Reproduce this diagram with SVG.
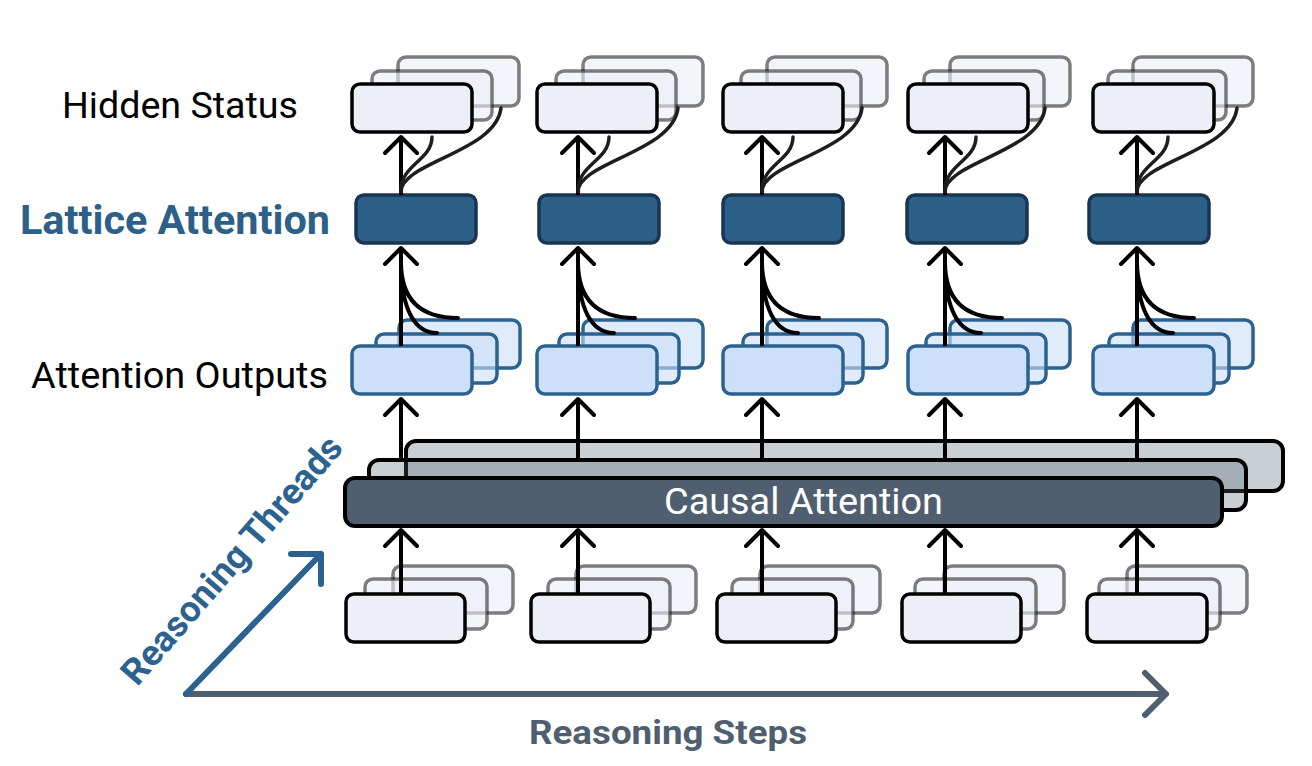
<svg xmlns="http://www.w3.org/2000/svg" width="1312" height="766" viewBox="0 0 1312 766">
<style>
.lbl{font-family:Roboto,"Liberation Sans",sans-serif;font-size:34px;fill:#000}
.bold{font-weight:700}
.hf{fill:#eceff7;stroke:#000;stroke-width:3.5}
.hb{fill:#eceff7;fill-opacity:0.6;stroke:#000;stroke-opacity:0.5;stroke-width:3.5}
.af{fill:#cce0fa;stroke:#2c6290;stroke-width:3.5}
.ab{fill:#cce0fa;fill-opacity:0.6;stroke:#2c6290;stroke-width:3.5}
.la{fill:#2c6089;stroke:#1a3550;stroke-width:3.5}
.cf{fill:#4f5f6f;stroke:#000;stroke-width:4}
.cb{fill:#4f5f6f;fill-opacity:0.3;stroke:#000;stroke-width:4}
.ar{fill:none;stroke:#000;stroke-width:4;marker-end:url(#ah)}
.cv{fill:none;stroke:#000;stroke-width:4;stroke-linecap:round}
.hc{fill:none;stroke:#1e1e1e;stroke-width:3.5;stroke-linecap:round}
</style>
<defs>
<marker id="ah" viewBox="-20 -20 24 40" markerWidth="24" markerHeight="40" refX="0" refY="0" orient="auto" markerUnits="userSpaceOnUse">
<path d="M-16,-16 L0,0 L-16,16" fill="none" stroke="#000" stroke-width="4" stroke-linecap="round" stroke-linejoin="round"/>
</marker>
</defs>
<rect width="1312" height="766" fill="#fff"/>

<!-- labels -->
<text class="lbl" x="62" y="118" style="font-size:36px" textLength="236" lengthAdjust="spacingAndGlyphs">Hidden Status</text>
<text class="lbl bold" x="20" y="234" style="font-size:40px;fill:#2c6089" textLength="310" lengthAdjust="spacingAndGlyphs">Lattice Attention</text>
<text class="lbl" x="31" y="388" style="font-size:36px" textLength="297" lengthAdjust="spacingAndGlyphs">Attention Outputs</text>

<!-- Hidden status stacks -->
<g id="hidden-1"><rect class="hb" x="398" y="57" width="121" height="49" rx="8"/><rect class="hb" x="372" y="71" width="120" height="49" rx="8"/><rect class="hf" x="352" y="84" width="120" height="48" rx="8"/></g>
<g id="hidden-2"><rect class="hb" x="583" y="57" width="120" height="49" rx="8"/><rect class="hb" x="556" y="71" width="120" height="49" rx="8"/><rect class="hf" x="537" y="84" width="120" height="48" rx="8"/></g>
<g id="hidden-3"><rect class="hb" x="767" y="57" width="120" height="49" rx="8"/><rect class="hb" x="741" y="71" width="120" height="49" rx="8"/><rect class="hf" x="723" y="84" width="120" height="48" rx="8"/></g>
<g id="hidden-4"><rect class="hb" x="950" y="57" width="120" height="49" rx="8"/><rect class="hb" x="924" y="71" width="120" height="49" rx="8"/><rect class="hf" x="908" y="84" width="120" height="48" rx="8"/></g>
<g id="hidden-5"><rect class="hb" x="1133" y="57" width="120" height="49" rx="8"/><rect class="hb" x="1108" y="71" width="118" height="49" rx="8"/><rect class="hf" x="1093" y="84" width="121" height="48" rx="8"/></g>

<!-- Lattice attention -->
<g id="lattice-1"><rect class="la" x="356" y="195" width="120" height="48" rx="8"/></g>
<g id="lattice-2"><rect class="la" x="539" y="195" width="120" height="48" rx="8"/></g>
<g id="lattice-3"><rect class="la" x="723" y="195" width="120" height="48" rx="8"/></g>
<g id="lattice-4"><rect class="la" x="907" y="195" width="120" height="48" rx="8"/></g>
<g id="lattice-5"><rect class="la" x="1089" y="195" width="120" height="48" rx="8"/></g>

<!-- Attention outputs -->
<g id="attn-1"><rect class="ab" x="399" y="320" width="121" height="48" rx="8"/><rect class="ab" x="376" y="334" width="121" height="49" rx="8"/><rect class="af" x="352" y="346" width="120" height="48" rx="8"/></g>
<g id="attn-2"><rect class="ab" x="583" y="320" width="120" height="48" rx="8"/><rect class="ab" x="559" y="334" width="120" height="49" rx="8"/><rect class="af" x="537" y="346" width="120" height="48" rx="8"/></g>
<g id="attn-3"><rect class="ab" x="767" y="320" width="120" height="48" rx="8"/><rect class="ab" x="743" y="334" width="120" height="49" rx="8"/><rect class="af" x="723" y="346" width="120" height="48" rx="8"/></g>
<g id="attn-4"><rect class="ab" x="950" y="320" width="120" height="48" rx="8"/><rect class="ab" x="926" y="334" width="120" height="49" rx="8"/><rect class="af" x="908" y="346" width="120" height="48" rx="8"/></g>
<g id="attn-5"><rect class="ab" x="1133" y="320" width="120" height="48" rx="8"/><rect class="ab" x="1109" y="334" width="120" height="49" rx="8"/><rect class="af" x="1093" y="346" width="121" height="48" rx="8"/></g>

<!-- Causal attention -->
<g id="causal">
<rect class="cb" x="406" y="441" width="877" height="50" rx="10"/>
<rect class="cb" x="369" y="460" width="877" height="50" rx="10"/>
<rect class="cf" x="345" y="478" width="877" height="48" rx="10"/>
<text class="lbl" x="664" y="514" style="font-size:37px;fill:#fff" textLength="279" lengthAdjust="spacingAndGlyphs">Causal Attention</text>
</g>

<!-- Bottom inputs -->
<g id="input-1"><rect class="hb" x="393" y="566" width="120" height="47" rx="8"/><rect class="hb" x="365" y="579" width="122" height="50" rx="8"/><rect class="hf" x="346" y="594" width="119" height="48" rx="8"/></g>
<g id="input-2"><rect class="hb" x="576" y="566" width="120" height="47" rx="8"/><rect class="hb" x="548" y="579" width="122" height="50" rx="8"/><rect class="hf" x="531" y="594" width="119" height="48" rx="8"/></g>
<g id="input-3"><rect class="hb" x="760" y="566" width="120" height="47" rx="8"/><rect class="hb" x="732" y="579" width="121" height="50" rx="8"/><rect class="hf" x="717" y="594" width="119" height="48" rx="8"/></g>
<g id="input-4"><rect class="hb" x="944" y="566" width="120" height="47" rx="8"/><rect class="hb" x="915" y="579" width="121" height="50" rx="8"/><rect class="hf" x="902" y="594" width="119" height="48" rx="8"/></g>
<g id="input-5"><rect class="hb" x="1127" y="566" width="120" height="47" rx="8"/><rect class="hb" x="1099" y="579" width="121" height="50" rx="8"/><rect class="hf" x="1087" y="594" width="120" height="48" rx="8"/></g>

<!-- Axes -->
<g id="axes">
<path d="M186,694 L1166,694 M1145,673 L1166,694 L1145,715" fill="none" stroke="#4f5f6f" stroke-width="6" stroke-linecap="round" stroke-linejoin="round"/>
<path d="M186,694 L321,554 M291,554 L321,554 L321,584" fill="none" stroke="#2c6290" stroke-width="6" stroke-linecap="round" stroke-linejoin="round"/>
<text class="lbl bold" x="529" y="744" style="font-size:34px;fill:#4f5f6f" textLength="278" lengthAdjust="spacingAndGlyphs">Reasoning Steps</text>
<text class="lbl bold" transform="translate(241,568) rotate(-49)" x="-158" y="0" style="font-size:36px;fill:#2c6290" textLength="316" lengthAdjust="spacingAndGlyphs">Reasoning Threads</text>
</g>

<!-- Connectors -->
<g id="connectors">
<path class="ar" d="M401,594 L401,530"/><path class="ar" d="M578,594 L578,530"/><path class="ar" d="M762,594 L762,530"/><path class="ar" d="M945,594 L945,530"/><path class="ar" d="M1137,594 L1137,530"/>
<path class="ar" d="M401,460 L401,399"/><path class="ar" d="M578,460 L578,399"/><path class="ar" d="M762,460 L762,399"/><path class="ar" d="M945,460 L945,399"/><path class="ar" d="M1137,460 L1137,399"/>
<path class="ar" d="M401,346 L401,248"/><path class="ar" d="M578,346 L578,248"/><path class="ar" d="M762,346 L762,248"/><path class="ar" d="M945,346 L945,248"/><path class="ar" d="M1137,346 L1137,248"/>
<path class="ar" d="M401,195 L401,137"/><path class="ar" d="M578,195 L578,137"/><path class="ar" d="M762,195 L762,137"/><path class="ar" d="M945,195 L945,137"/><path class="ar" d="M1137,195 L1137,137"/>
<path class="cv" d="M401,262 C401,300 421,318 458,318 M401,262 C401,310 415,333 437,333"/>
<path class="cv" d="M578,262 C578,300 598,318 635,318 M578,262 C578,310 592,333 614,333"/>
<path class="cv" d="M762,262 C762,300 782,318 819,318 M762,262 C762,310 776,333 798,333"/>
<path class="cv" d="M945,262 C945,300 965,318 1002,318 M945,262 C945,310 959,333 981,333"/>
<path class="cv" d="M1137,262 C1137,300 1157,318 1194,318 M1137,262 C1137,310 1151,333 1173,333"/>
<path class="hc" d="M401,192 C401,162 496,152 501,108 M401,190 C401,165 432,160 432,137"/>
<path class="hc" d="M578,192 C578,162 673,152 678,108 M578,190 C578,165 609,160 609,137"/>
<path class="hc" d="M762,192 C762,162 857,152 862,108 M762,190 C762,165 793,160 793,137"/>
<path class="hc" d="M945,192 C945,162 1040,152 1045,108 M945,190 C945,165 976,160 976,137"/>
<path class="hc" d="M1137,192 C1137,162 1232,152 1237,108 M1137,190 C1137,165 1168,160 1168,137"/>
</g>
</svg>
